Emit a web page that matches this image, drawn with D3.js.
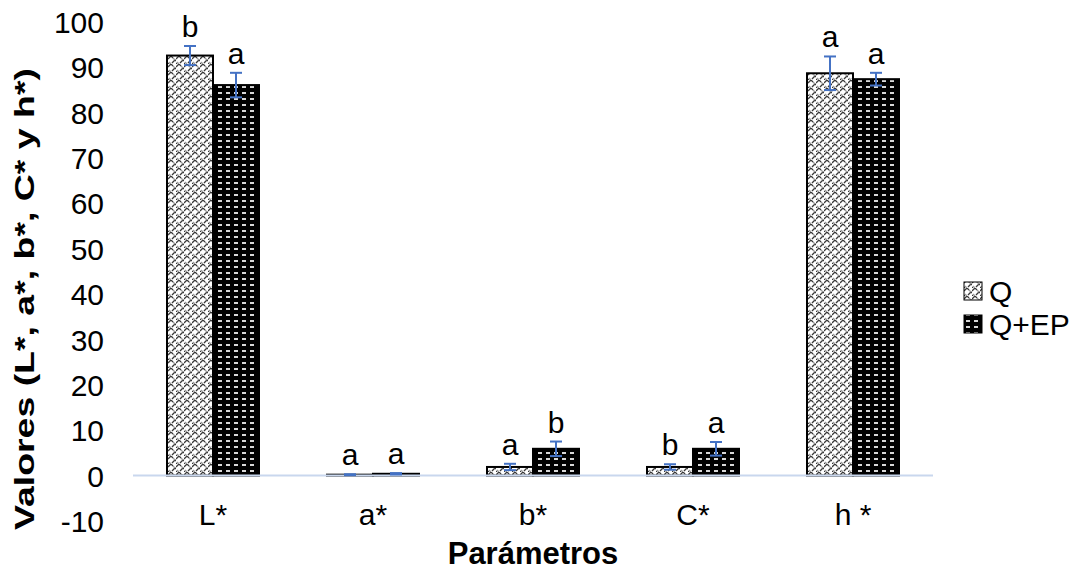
<!DOCTYPE html>
<html>
<head>
<meta charset="utf-8">
<script src="https://cdnjs.cloudflare.com/ajax/libs/d3/7.8.5/d3.min.js"></script>
<style>
  body { margin: 0; background: #fff; }
  text { font-family: "Liberation Sans", Arial, sans-serif; fill: #000; }
</style>
</head>
<body>
<svg width="1082" height="571"></svg>
<script>
"use strict";

// Chart data
var categories = ["L*", "a*", "b*", "C*", "h *"];
var seriesNames = ["Q", "Q+EP"];
var valuesQ    = [92.5, 0.2, 1.9, 1.9, 88.6];
var valuesQEP  = [86.0, 0.4, 5.9, 5.9, 87.3];
var errorsQ    = [2.1, 0.1, 0.7, 0.6, 3.7];
var errorsQEP  = [2.7, 0.15, 1.6, 1.5, 1.4];
var lettersQ   = ["b", "a", "a", "b", "a"];
var lettersQEP = ["a", "a", "b", "a", "a"];
var yTicks = [-10, 0, 10, 20, 30, 40, 50, 60, 70, 80, 90, 100];

var fontSize = 30;

var svg = d3.select("svg");

// Patterns for the two series
var defs = svg.append("defs");

var pQ = defs.append("pattern")
    .attr("id", "patQ")
    .attr("patternUnits", "userSpaceOnUse")
    .attr("width", 8)
    .attr("height", 8);
pQ.append("rect").attr("width", 8).attr("height", 8).attr("fill", "#fff");
pQ.append("path")
    .attr("d", "M0,3 L3,0 L5,2 M4,7 L7,4 L8,5 M0,7 L1,8")
    .attr("fill", "none")
    .attr("stroke", "#3a3a3a")
    .attr("stroke-width", 1.3);
pQ.append("path")
    .attr("d", "M5,2 L7,4 M1,6 L3,8")
    .attr("fill", "none")
    .attr("stroke", "#999")
    .attr("stroke-width", 1.2);

var pE = defs.append("pattern")
    .attr("id", "patQEP")
    .attr("patternUnits", "userSpaceOnUse")
    .attr("width", 8)
    .attr("height", 6);
pE.append("rect").attr("width", 8).attr("height", 6).attr("fill", "#000");
pE.append("rect")
    .attr("x", 2).attr("y", 2)
    .attr("width", 4).attr("height", 2)
    .attr("fill", "#d8d8d8");

var fills = {"Q": "url(#patQ)", "Q+EP": "url(#patQEP)"};

// Scales
var xScale = d3.scaleBand()
    .domain(categories)
    .range([133, 933]);

var xSub = d3.scaleBand()
    .domain(seriesNames)
    .range([34, 126]);

var yScale = d3.scaleLinear()
    .domain([-10, 100])
    .range([521, 21.5]);

// Build rows from the arrays
var rows = [];
categories.forEach(function(c, i) {
    rows.push({cat: c, series: "Q", value: valuesQ[i], err: errorsQ[i], letter: lettersQ[i]});
    rows.push({cat: c, series: "Q+EP", value: valuesQEP[i], err: errorsQEP[i], letter: lettersQEP[i]});
});

var chart = svg.append("g").attr("class", "chart");

// Y tick labels
var yAxis = d3.axisLeft(yScale)
    .tickValues(yTicks)
    .tickFormat(function(d) { return String(d); })
    .tickSize(0)
    .tickPadding(0);

var yG = chart.append("g")
    .attr("transform", "translate(104,0)")
    .call(yAxis);
yG.select(".domain").remove();
yG.selectAll("text")
    .style("font-size", fontSize + "px")
    .style("font-family", "'Liberation Sans', Arial, sans-serif")
    .attr("fill", "#000")
    .attr("dy", "0.36em");

// Bars
chart.append("g")
    .attr("class", "bars")
    .selectAll("rect")
    .data(rows)
    .enter().append("rect")
    .attr("x", function(d) { return xScale(d.cat) + xSub(d.series); })
    .attr("y", function(d) { return yScale(d.value); })
    .attr("width", xSub.bandwidth())
    .attr("height", function(d) { return yScale(0) - yScale(d.value); })
    .attr("fill", function(d) { return fills[d.series]; })
    .attr("stroke", "#000")
    .attr("stroke-width", 2);

// Horizontal axis line at zero
chart.append("line")
    .attr("x1", xScale.range()[0])
    .attr("x2", xScale.range()[1])
    .attr("y1", yScale(0))
    .attr("y2", yScale(0))
    .attr("stroke", "#c9d7ee")
    .attr("stroke-width", 2);

// Error bars
var errG = chart.append("g").attr("class", "errors");
rows.forEach(function(d) {
    var cx = xScale(d.cat) + xSub(d.series) + xSub.bandwidth() / 2;
    var yTop = yScale(d.value + d.err);
    var yBot = yScale(d.value - d.err);
    errG.append("line")
        .attr("x1", cx).attr("x2", cx)
        .attr("y1", yTop).attr("y2", yBot);
    errG.append("line")
        .attr("x1", cx - 6).attr("x2", cx + 6)
        .attr("y1", yTop).attr("y2", yTop);
    errG.append("line")
        .attr("x1", cx - 6).attr("x2", cx + 6)
        .attr("y1", yBot).attr("y2", yBot);
});
errG.selectAll("line")
    .attr("stroke", "#4472c4")
    .attr("stroke-width", 2);

// Significance letters
chart.append("g")
    .attr("class", "letters")
    .selectAll("text")
    .data(rows)
    .enter().append("text")
    .attr("x", function(d) { return xScale(d.cat) + xSub(d.series) + xSub.bandwidth() / 2; })
    .attr("y", function(d) { return yScale(d.value + d.err) - 9; })
    .attr("text-anchor", "middle")
    .style("font-size", fontSize + "px")
    .text(function(d) { return d.letter; });

// Category labels
chart.append("g")
    .selectAll("text")
    .data(categories)
    .enter().append("text")
    .attr("x", function(d) { return xScale(d) + xScale.bandwidth() / 2; })
    .attr("y", 525)
    .attr("text-anchor", "middle")
    .style("font-size", fontSize + "px")
    .text(function(d) { return d; });

// Axis titles
chart.append("text")
    .attr("x", 533)
    .attr("y", 564)
    .attr("text-anchor", "middle")
    .style("font-size", "31px")
    .style("font-weight", "bold")
    .text("Parámetros");

chart.append("text")
    .attr("transform", "translate(34,299) rotate(-90)")
    .attr("text-anchor", "middle")
    .attr("textLength", 462)
    .attr("lengthAdjust", "spacingAndGlyphs")
    .style("font-size", "27px")
    .style("font-weight", "bold")
    .text("Valores (L*, a*, b*, C* y h*)");

// Legend
var legend = chart.append("g")
    .attr("class", "legend")
    .attr("transform", "translate(964,0)");

var legendRows = [291, 324];
seriesNames.forEach(function(s, i) {
    var ly = legendRows[i];
    legend.append("rect")
        .attr("x", 0)
        .attr("y", ly - 9)
        .attr("width", 18)
        .attr("height", 18)
        .attr("fill", fills[s])
        .attr("stroke", "#000")
        .attr("stroke-width", 1);
    legend.append("text")
        .attr("x", 25)
        .attr("y", ly)
        .attr("dy", "0.36em")
        .style("font-size", fontSize + "px")
        .text(s);
});
</script>
</body>
</html>
